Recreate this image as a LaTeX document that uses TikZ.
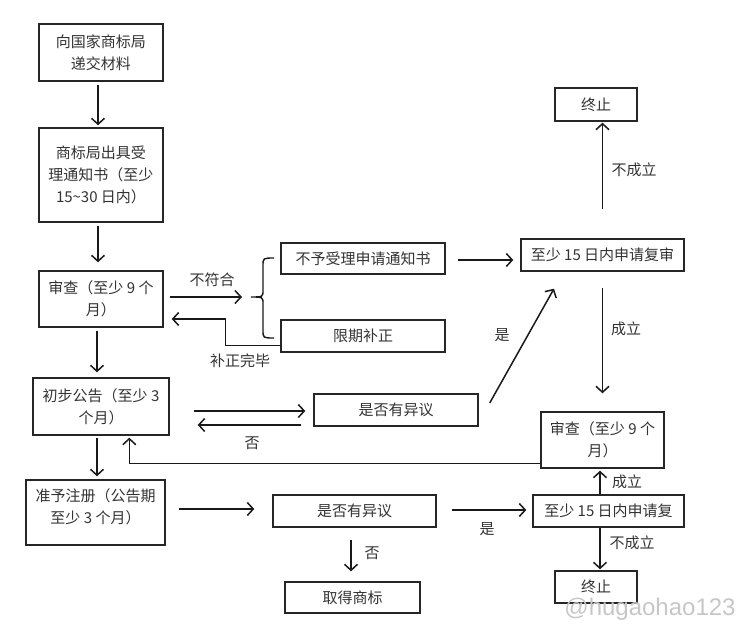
\documentclass[tikz,border=0pt]{standalone}
\usepackage{fontspec}
\newfontfamily\cjk{Noto Sans CJK SC}
\newfontfamily\wmfont{Liberation Sans}
\usetikzlibrary{arrows.meta}
\tikzset{
  txt/.style={font=\cjk\fontsize{15}{22}\selectfont, text=black!80},
  box/.style={txt, draw=black!85, line width=1.4pt, inner sep=0pt, align=center, rectangle},
  arr/.style={draw=black!90, line width=1.5pt, -{Straight Barb[length=6pt,width=13pt,line width=1.5pt]}},
  ln/.style={draw=black!90, line width=1.4pt},
  lbl/.style={txt, inner sep=0pt}
}
\begin{document}
\begin{tikzpicture}[x=1pt,y=-1pt]
\useasboundingbox (0,0) rectangle (753,640);
\fill[white] (0,0) rectangle (753,640);
% boxes
\node[box, minimum width=124pt, minimum height=57pt] (b1) at (101,52.5) {向国家商标局\\递交材料};
\node[box, minimum width=124pt, minimum height=94pt] (b2) at (101,175) {商标局出具受\\理通知书（至少\\15\textasciitilde30 日内）};
\node[box, minimum width=124pt, minimum height=56pt] (b3) at (101,299) {审查（至少 9 个\\月）};
\node[box, minimum width=136pt, minimum height=57pt] (b4) at (101,406.5) {初步公告（至少 3\\个月）};
\node[box, minimum width=139pt, minimum height=65pt] (b5) at (95.5,512.5) {};
\node[lbl, align=center] (t5) at (95.5,506.5) {准予注册（公告期\\至少 3 个月）};
\node[box, minimum width=164pt, minimum height=31pt] (b6) at (363,258.5) {不予受理申请通知书};
\node[box, minimum width=164pt, minimum height=32pt] (b7) at (363,336) {限期补正};
\node[box, minimum width=164pt, minimum height=32pt] (b8) at (396,410) {是否有异议};
\node[box, minimum width=163pt, minimum height=32pt] (b9) at (602.5,255) {至少 15 日内申请复审};
\node[box, minimum width=82pt, minimum height=33pt] (b10) at (596,104.5) {终止};
\node[box, minimum width=123pt, minimum height=56pt] (b11) at (602.5,440) {审查（至少 9 个\\月）};
\node[box, minimum width=163pt, minimum height=32pt] (b12) at (354.5,511) {是否有异议};
\node[box, minimum width=135pt, minimum height=31pt] (b13) at (352.5,597.5) {取得商标};
\node[box, minimum width=151pt, minimum height=32pt] (b14) at (608.5,511) {至少 15 日内申请复};
\node[box, minimum width=82pt, minimum height=32pt] (b15) at (596,587) {终止};
% brace
\coordinate (brace) at (251,297);
\draw[ln] (274,258) .. controls (263,258) .. (263,266) -- (263,290) .. controls (263,297) .. (brace)
  .. controls (263,297) .. (263,304) -- (263,330) .. controls (263,338) .. (274,338);
% connectors
\draw[arr] ([xshift=-3pt,yshift=-3pt]b1.south) -- ([xshift=-3pt,yshift=2pt]b2.north);
\draw[arr] ([xshift=-3pt,yshift=-3pt]b2.south) -- ([xshift=-3pt,yshift=8pt]b3.north);
\draw[arr] ([xshift=-4pt,yshift=-3pt]b3.south) -- ([xshift=-4pt,yshift=5pt]b4.north);
\draw[arr] ([xshift=-4pt,yshift=-2pt]b4.south) -- ([xshift=1.5pt,yshift=3pt]b5.north);
\draw[arr] ([xshift=6pt,yshift=2pt]b3.east) -- ([xshift=-9pt]brace);
\draw[arr] ([yshift=7pt]b7.south west) -- ++(-55,0) |- ([xshift=8pt,yshift=-20pt]b3.east);
\draw[arr] ([xshift=12pt,yshift=-1.5pt]b6.east) -- ([xshift=-7pt,yshift=-1.5pt]b6.east -| b9.west);
\draw[arr] ([yshift=29pt]b9.north) -- ([yshift=-1pt]b9.north |- b10.south);
\draw[arr] ([yshift=-16pt]b9.south) -- ([yshift=18pt]b11.north);
\draw[arr] ([xshift=24pt,yshift=-4.5pt]b4.east) -- ([xshift=-8pt,yshift=-1pt]b8.west);
\draw[arr] ([xshift=-12pt,yshift=-15pt]b8.west) -- ([xshift=28pt,yshift=-18.5pt]b4.east);
\draw[arr] ([xshift=11pt,yshift=7pt]b8.east) -- ([xshift=-48.5pt,yshift=-17pt]b9.south);
\draw[arr] ([yshift=5pt]b11.south west) -| ([xshift=97pt,yshift=-2pt]b4.south west);
\draw[arr] ([xshift=13pt,yshift=3.5pt]b5.east) -- ([xshift=-18pt,yshift=2pt]b12.west);
\draw[arr] ([xshift=-3.5pt,yshift=-12pt]b12.south) -- ([xshift=-1.5pt,yshift=10pt]b13.north);
\draw[arr] ([xshift=15pt,yshift=1pt]b12.east) -- ([xshift=-6pt,yshift=1pt]b14.west);
\draw[arr] ([xshift=-8.5pt]b14.north) -- ([xshift=-2.5pt,yshift=-2pt]b11.south);
\draw[arr] ([xshift=-8.5pt]b14.south) -- ([xshift=4pt,yshift=1pt]b15.north);
% labels
\node[lbl] (l1) at (212,280) {不符合};
\node[lbl] (l2) at (240,361) {补正完毕};
\node[lbl] (l3) at (634,170) {不成立};
\node[lbl] (l4) at (626,329) {成立};
\node[lbl] (l5) at (502,335) {是};
\node[lbl] (l6) at (252,443) {否};
\node[lbl] (l7) at (372,553) {否};
\node[lbl] (l8) at (487,529) {是};
\node[lbl] (l9) at (627,482) {成立};
\node[lbl] (l10) at (632,543) {不成立};
% watermark
\node[font=\wmfont\fontsize{24}{24}\selectfont, text=black!22, inner sep=0pt] (wm) at (650,609) {@hugaohao123};
\end{tikzpicture}
\end{document}
